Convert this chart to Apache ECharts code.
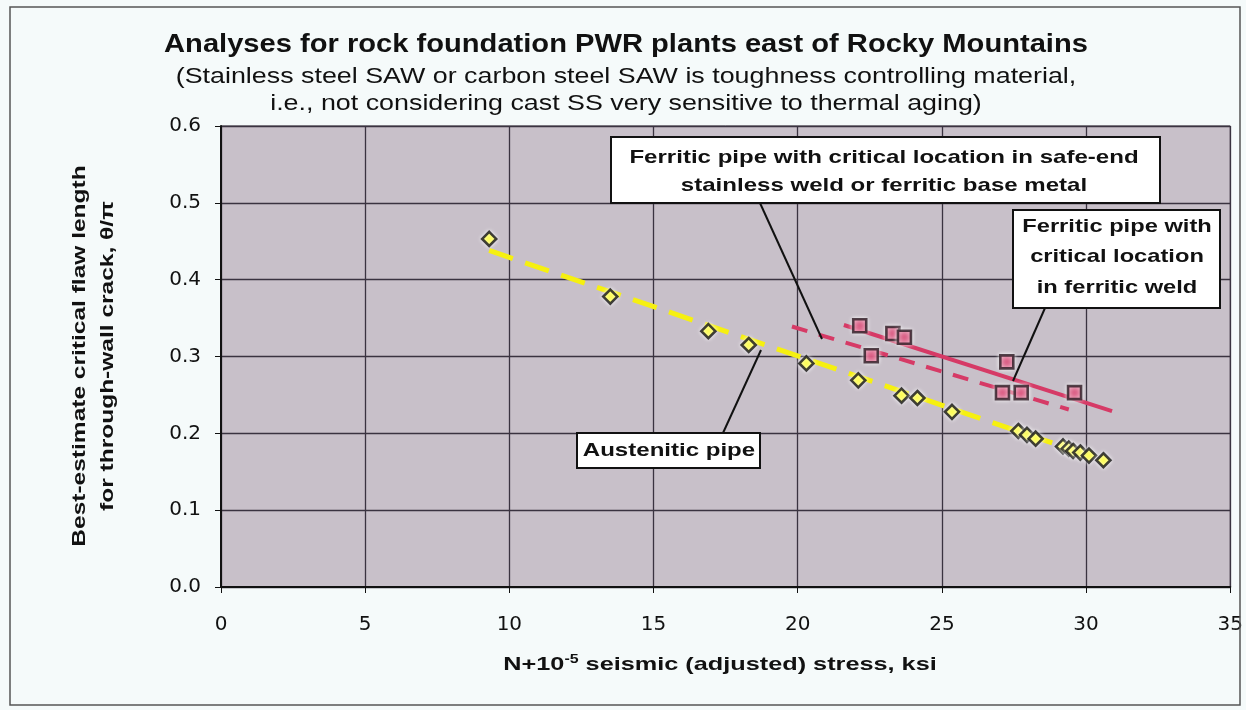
<!DOCTYPE html>
<html><head><meta charset="utf-8">
<script src="https://cdn.jsdelivr.net/npm/echarts@6/dist/echarts.min.js"></script>
<style>html,body{margin:0;padding:0;background:#f5fafa;}#c{width:1246px;height:710px;}</style>
</head><body><div id="c"></div>
<script>
// Austenitic pipe analyses (x: stress ksi, y: theta/pi)
const austeniticX = [9.3, 13.5, 16.9, 18.3, 20.3, 22.1, 23.6, 24.15, 25.35, 27.65, 27.95, 28.25, 29.2, 29.4, 29.55, 29.8, 30.1, 30.6];
const austeniticY = [0.453, 0.378, 0.333, 0.315, 0.291, 0.269, 0.249, 0.246, 0.228, 0.203, 0.198, 0.193, 0.183, 0.180, 0.177, 0.175, 0.171, 0.165];
// Ferritic pipe analyses
const ferriticX = [22.15, 23.3, 23.7, 22.55, 27.25, 27.1, 27.75, 29.6];
const ferriticY = [0.340, 0.330, 0.325, 0.301, 0.293, 0.253, 0.253, 0.253];
// Trend lines (endpoints)
const austeniticTrendX = [9.3, 30.5];
const austeniticTrendY = [0.438, 0.166];
const weldTrendX = [21.6, 30.9];
const weldTrendY = [0.341, 0.229];
const safeEndTrendX = [19.8, 29.4];
const safeEndTrendY = [0.339, 0.231];
// Axis ticks
const xTicks = [0, 5, 10, 15, 20, 25, 30, 35];
const yTicks = [0.0, 0.1, 0.2, 0.3, 0.4, 0.5, 0.6];

const zip = (xs, ys) => xs.map((x, i) => [x, ys[i]]);
const chart = echarts.init(document.getElementById('c'));
const F = '"Liberation Sans", Arial, sans-serif';
const NF = '"DejaVu Sans", sans-serif';
const txt = (text, x, y, size, weight, sx, extra) => Object.assign({
  type: 'text', x: x, y: y, scaleX: sx, z: 12,
  style: {text: text, fill: '#111', font: weight + ' ' + size + 'px ' + F, align: 'center', verticalAlign: 'middle'}
}, extra || {});
const option = {
  backgroundColor: '#f5fafa',
  animation: false,
  grid: {left: 221, right: 15, top: 126, bottom: 123, show: true, backgroundColor: '#c8c0c9', borderColor: '#2b2530', borderWidth: 1},
  xAxis: {
    type: 'value', min: xTicks[0], max: xTicks[xTicks.length - 1], interval: 5,
    axisLine: {show: true, lineStyle: {color: '#111', width: 2}},
    axisTick: {show: true, length: 6, lineStyle: {color: '#111'}},
    splitLine: {show: true, lineStyle: {color: '#3a3340', width: 1.3}},
    axisLabel: {fontFamily: NF, fontSize: 20, color: '#111', margin: 28}
  },
  yAxis: {
    type: 'value', min: yTicks[0], max: yTicks[yTicks.length - 1], interval: 0.1,
    axisLine: {show: true, lineStyle: {color: '#111', width: 2}},
    axisTick: {show: true, length: 6, lineStyle: {color: '#111'}},
    splitLine: {show: true, lineStyle: {color: '#3a3340', width: 1.3}},
    axisLabel: {fontFamily: NF, fontSize: 20, color: '#111', margin: 20, formatter: v => v.toFixed(1)}
  },
  series: [
    {type: 'line', data: zip(austeniticTrendX, austeniticTrendY), symbol: 'none', z: 2,
     lineStyle: {color: '#f6f010', width: 5, type: [25, 13]}},
    {type: 'line', data: zip(safeEndTrendX, safeEndTrendY), symbol: 'none', z: 2,
     lineStyle: {color: '#d63a66', width: 4, type: [16, 12]}},
    {type: 'line', data: zip(weldTrendX, weldTrendY), symbol: 'none', z: 2,
     lineStyle: {color: '#d63a66', width: 4}},
    {type: 'scatter', data: zip(austeniticX, austeniticY), symbol: 'diamond', symbolSize: 14, z: 3,
     itemStyle: {color: '#ffff10', borderColor: '#111', borderWidth: 2.6, shadowColor: '#fff', shadowBlur: 4}},
    {type: 'scatter', data: zip(ferriticX, ferriticY), symbol: 'rect', symbolSize: 13, z: 3,
     itemStyle: {color: '#d43c6c', borderColor: '#2a1820', borderWidth: 2.6, shadowColor: '#fff', shadowBlur: 4}}
  ],
  graphic: [
    {type: 'rect', shape: {x: 10, y: 7, width: 1230, height: 698}, style: {fill: 'none', stroke: '#555', lineWidth: 1.5}, z: 1},
    // titles
    txt('Analyses for rock foundation PWR plants east of Rocky Mountains', 626, 45, 26, 'bold', 1.12),
    txt('(Stainless steel SAW or carbon steel SAW is toughness controlling material,', 626, 77, 22, 'normal', 1.22),
    txt('i.e., not considering cast SS very sensitive to thermal aging)', 626, 104, 22, 'normal', 1.22),
    // axis names
    txt('Best-estimate critical flaw length', 80, 356, 19, 'bold', 1.29, {rotation: Math.PI / 2}),
    txt('for through-wall crack, θ/π', 108, 356, 19, 'bold', 1.29, {rotation: Math.PI / 2}),
    {type: 'text', x: 720, y: 665, scaleX: 1.33, z: 12,
     style: {text: '{b|N+10}{s|-5}{b| seismic (adjusted) stress, ksi}', align: 'center', verticalAlign: 'middle',
       rich: {b: {font: 'bold 19px ' + F, fill: '#111'},
              s: {font: 'bold 12px ' + F, fill: '#111', verticalAlign: 'top', padding: [0, 0, 10, 0]}}}},
    // leader lines
    {type: 'line', shape: {x1: 760, y1: 203, x2: 822, y2: 339}, style: {stroke: '#111', lineWidth: 2}, z: 10},
    {type: 'line', shape: {x1: 1045, y1: 308, x2: 1013, y2: 381}, style: {stroke: '#111', lineWidth: 2}, z: 10},
    {type: 'line', shape: {x1: 723, y1: 433, x2: 761, y2: 350}, style: {stroke: '#111', lineWidth: 2}, z: 10},
    // annotation boxes
    {type: 'rect', shape: {x: 611, y: 137, width: 549, height: 66}, style: {fill: '#fff', stroke: '#111', lineWidth: 2}, z: 11},
    txt('Ferritic pipe with critical location in safe-end', 884, 158, 18.5, 'bold', 1.3),
    txt('stainless weld or ferritic base metal', 884, 186, 18.5, 'bold', 1.3),
    {type: 'rect', shape: {x: 1013, y: 210, width: 207, height: 98}, style: {fill: '#fff', stroke: '#111', lineWidth: 2}, z: 11},
    txt('Ferritic pipe with', 1117, 227, 18.5, 'bold', 1.28),
    txt('critical location', 1117, 257, 18.5, 'bold', 1.28),
    txt('in ferritic weld', 1117, 288, 18.5, 'bold', 1.28),
    {type: 'rect', shape: {x: 577, y: 433, width: 183, height: 35}, style: {fill: '#fff', stroke: '#111', lineWidth: 2}, z: 11},
    txt('Austenitic pipe', 669, 451, 18.5, 'bold', 1.3)
  ]
};
chart.setOption(option);
</script></body></html>
